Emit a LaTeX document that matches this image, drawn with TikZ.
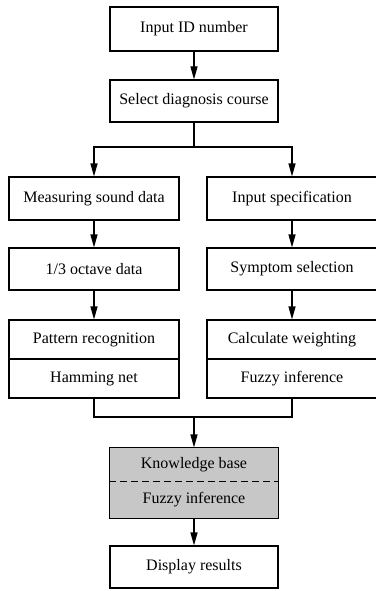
\documentclass[tikz,border=0pt]{standalone}
\usepackage{fontspec}
\setmainfont{Liberation Serif}
\usetikzlibrary{arrows.meta}
\begin{document}
\begin{tikzpicture}[x=1pt, y=-1pt, line width=1.2pt,
	box/.style = {draw, rectangle, inner sep=0pt, minimum width=168pt, font=\fontsize{16}{19}\selectfont},
	colbox/.style = {box, minimum width=170pt},
	shade/.style = {rectangle, inner sep=0pt, minimum width=168pt, fill=black!22, font=\fontsize{16}{19}\selectfont},
	>={Triangle[length=13pt, width=7pt]}]
				\useasboundingbox (0,0) rectangle (375,591);
				\node[box, minimum height=44pt] (input) at (194,29) {Input ID number};
				\node[box, minimum height=42pt] (course) at (194,101) {Select diagnosis course};
				\node[colbox, minimum height=43pt] (measure) at (94,198.5) {Measuring sound data};
				\node[colbox, minimum height=43pt] (spec) at (292,198.5) {Input specification};
				\node[colbox, minimum height=42pt] (octave) at (94,269) {1/3 octave data};
				\node[colbox, minimum height=42pt] (symptom) at (292,269) {Symptom selection};
				\node[colbox, minimum height=39pt] (pattern) at (94,339.5) {Pattern recognition};
				\node[colbox, minimum height=39pt] (hamming) at (94,378.5) {Hamming net};
				\node[colbox, minimum height=39pt] (weight) at (292,339.5) {Calculate weighting};
				\node[colbox, minimum height=39pt] (fuzzy) at (292,378.5) {Fuzzy inference};
				\node[shade, minimum height=33pt] (kbase) at (194,464.5) {Knowledge base};
				\node[shade, minimum height=37pt] (kinfer) at (194,499.5) {Fuzzy inference};
				\draw (kbase.north west) rectangle (kinfer.south east);
				\draw[dashed, dash pattern=on 7pt off 4pt] (kbase.south west) -- (kbase.south east);
				\node[box, minimum height=42pt] (display) at (194,567) {Display results};
				\coordinate (split) at (194,147);
				\coordinate (join) at (194,417);
				\draw[->] (input) -- (course);
				\draw (course) -- (split);
				\draw[->] (split) -| (measure);
				\draw[->] (split) -| (spec);
				\draw[->] (measure) -- (octave);
				\draw[->] (spec) -- (symptom);
				\draw[->] (octave) -- (pattern);
				\draw[->] (symptom) -- (weight);
				\draw (hamming) |- (join);
				\draw (fuzzy) |- (join);
				\draw[->] (join) -- (kbase);
				\draw[->] (kinfer) -- (display);
			\end{tikzpicture}
\end{document}
